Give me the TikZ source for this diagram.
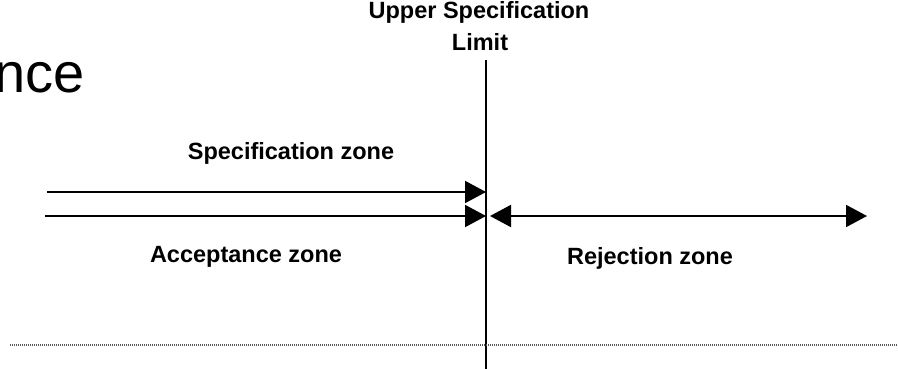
\documentclass[tikz,border=0pt]{standalone}
\usepackage{fontspec}
\setmainfont{Liberation Sans}
\usetikzlibrary{arrows.meta}
\begin{document}
\begin{tikzpicture}[x=1pt,y=-1pt,
  lbl/.style={inner sep=0pt, anchor=base, font=\bfseries\fontsize{23.5}{31}\selectfont, align=center},
  bigtxt/.style={inner sep=0pt, anchor=base east, font=\fontsize{56}{60}\selectfont},
  zone/.style={line width=2pt, black},
  tip/.style={-{Triangle[length=21pt,width=22pt]}},
  dtip/.style={{Triangle[length=21pt,width=22pt]}-{Triangle[length=21pt,width=22pt]}},
  dotline/.style={line width=1.5pt, black!65, dash pattern=on 1pt off 1pt}]
\useasboundingbox (0,0) rectangle (898,369);
\fill[white] (0,0) rectangle (898,369);

% partial title text at left
\node[bigtxt] (nce) at (85,93) {nce};

% upper specification limit label and line
\node[lbl, anchor=base] (usl) at (479,19) {Upper Specification};
\node[lbl, anchor=base] (lim) at (480,51) {Limit};
\coordinate (vtop) at (486,60);
\coordinate (vbot) at (486,369);
\draw[line width=2pt] (vtop) -- (vbot);

% dotted baseline
\coordinate (dl) at (10,345);
\coordinate (dr) at (898,345);
\draw[dotline] (dl) -- (dr);

% arrows
\coordinate (s1) at (47,192);
\coordinate (e1) at (486,192);
\coordinate (s2) at (45,216);
\coordinate (e2) at (486,216);
\coordinate (r1) at (490,216);
\coordinate (r2) at (867,216);
\draw[zone, tip] (s1) -- (e1);
\draw[zone, tip] (s2) -- (e2);
\draw[zone, dtip] (r1) -- (r2);

% zone labels
\node[lbl] (spec) at (291,160) {Specification zone};
\node[lbl] (acc) at (246,262) {Acceptance zone};
\node[lbl] (rej) at (650,264) {Rejection zone};
\end{tikzpicture}
\end{document}
